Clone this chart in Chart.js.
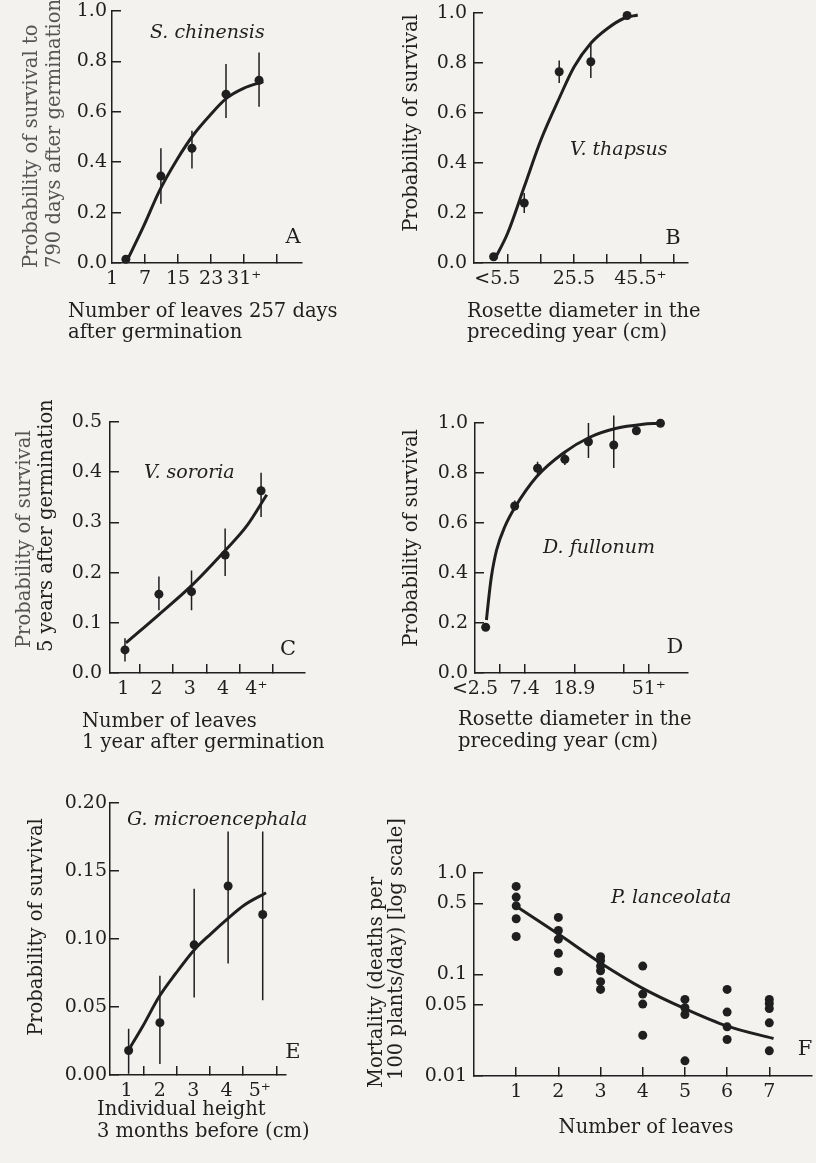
<!DOCTYPE html>
<html>
<head>
<meta charset="utf-8">
<title>Survival and size</title>
<script src="https://cdn.jsdelivr.net/npm/chart.js@4.4.1/dist/chart.umd.min.js"></script>
<style>
  html, body { margin: 0; padding: 0; background: #f3f2ee; }
  #page { position: relative; width: 816px; height: 1163px; overflow: hidden; }
  #page canvas { position: absolute; left: 0; top: 0; }
</style>
</head>
<body>
<div id="page">
  <canvas id="panelA" width="816" height="1163"></canvas>
  <canvas id="panelB" width="816" height="1163"></canvas>
  <canvas id="panelC" width="816" height="1163"></canvas>
  <canvas id="panelD" width="816" height="1163"></canvas>
  <canvas id="panelE" width="816" height="1163"></canvas>
  <canvas id="panelF" width="816" height="1163"></canvas>
</div>
<script>
// A - S. chinensis
const aLeafX = [0.42, 1.48, 2.42, 3.45, 4.45];
const aSurv = [0.015, 0.345, 0.455, 0.67, 0.725];
const aLow = [null, 0.235, 0.375, 0.575, 0.62];
const aHigh = [null, 0.455, 0.525, 0.79, 0.835];
const aFitX = [0.44, 0.95, 1.45, 1.96, 2.46, 2.97, 3.47, 3.98, 4.58];
const aFitY = [0.005, 0.144, 0.29, 0.409, 0.508, 0.587, 0.654, 0.693, 0.72];
const aXLabels = ['1', '7', '15', '23', '31\u207A'];
const aYLabels = ['0.0', '0.2', '0.4', '0.6', '0.8', '1.0'];

// B - V. thapsus
const bDiamX = [0.59, 1.51, 2.56, 3.51, 4.6];
const bSurv = [0.025, 0.24, 0.765, 0.805, 0.99];
const bLow = [null, 0.20, 0.72, 0.74, null];
const bHigh = [null, 0.28, 0.81, 0.88, null];
const bFitX = [0.61, 1.01, 1.51, 2.01, 2.56, 3.01, 3.51, 4.02, 4.51, 4.92];
const bFitY = [0.012, 0.119, 0.305, 0.492, 0.659, 0.785, 0.879, 0.939, 0.979, 0.992];
const bXLabels = ['<5.5', '25.5', '45.5\u207A'];
const bYLabels = ['0.0', '0.2', '0.4', '0.6', '0.8', '1.0'];

// C - V. sororia
const cLeafX = [0.55, 1.57, 2.55, 3.56, 4.64];
const cSurv = [0.046, 0.157, 0.162, 0.235, 0.363];
const cLow = [0.023, 0.125, 0.125, 0.193, 0.311];
const cHigh = [0.069, 0.192, 0.204, 0.288, 0.399];
const cFitX = [0.58, 1.58, 2.55, 3.56, 4.21, 4.81];
const cFitY = [0.060, 0.117, 0.174, 0.244, 0.293, 0.355];
const cXLabels = ['1', '2', '3', '4', '4\u207A'];
const cYLabels = ['0.0', '0.1', '0.2', '0.3', '0.4', '0.5'];

// D - D. fullonum
const dDiamX = [0.43, 1.6, 2.52, 3.62, 4.57, 5.59, 6.5, 7.47];
const dSurv = [0.183, 0.668, 0.819, 0.855, 0.925, 0.912, 0.969, 0.999];
const dLow = [null, 0.65, 0.79, 0.832, 0.86, 0.82, 0.96, null];
const dHigh = [null, 0.69, 0.845, 0.879, 1.0, 1.03, 0.99, null];
const dFitX = [0.46, 0.56, 0.66, 0.87, 1.2, 1.6, 2.48, 3.55, 4.62, 5.7, 6.77, 7.37];
const dFitY = [0.212, 0.305, 0.385, 0.492, 0.585, 0.661, 0.785, 0.879, 0.943, 0.979, 0.995, 0.999];
const dXLabels = ['<2.5', '7.4', '18.9', '51\u207A'];
const dYLabels = ['0.0', '0.2', '0.4', '0.6', '0.8', '1.0'];

// E - G. microencephala
const eHeightX = [0.56, 1.5, 2.53, 3.55, 4.59];
const eSurv = [0.018, 0.0385, 0.0957, 0.139, 0.118];
const eLow = [0.001, 0.008, 0.057, 0.082, 0.055];
const eHigh = [0.034, 0.073, 0.137, 0.179, 0.179];
const eFitX = [0.53, 0.98, 1.48, 1.98, 2.53, 3.04, 3.54, 4.04, 4.69];
const eFitY = [0.0172, 0.0356, 0.0577, 0.0748, 0.092, 0.104, 0.115, 0.125, 0.134];
const eXLabels = ['1', '2', '3', '4', '5\u207A'];
const eYLabels = ['0.00', '0.05', '0.10', '0.15', '0.20'];

// F - P. lanceolata (one list of observed mortalities per leaf count)
const fLeafCounts = [1, 2, 3, 4, 5, 6, 7];
const fMortality = [
    [0.738, 0.579, 0.475, 0.354, 0.237],
    [0.365, 0.271, 0.223, 0.162, 0.107],
    [0.150, 0.137, 0.121, 0.109, 0.085, 0.0713],
    [0.121, 0.0641, 0.0511, 0.0252],
    [0.0568, 0.047, 0.0404, 0.0141],
    [0.0713, 0.0426, 0.0305, 0.0229],
    [0.0568, 0.0519, 0.0463, 0.0334, 0.0177]
];
const fFitX = [1, 2, 3, 4, 5, 6, 7.1];
const fFitY = [0.47, 0.25, 0.13, 0.073, 0.046, 0.031, 0.0234];
const fXLabels = ['1', '2', '3', '4', '5', '6', '7'];
const fYTicks = [0.01, 0.05, 0.1, 0.5, 1.0];
const fYLabels = ['0.01', '0.05', '0.1', '0.5', '1.0'];

const PAGE_W = 816;
const PAGE_H = 1163;
const Y_BOX = 70;   // room kept for y tick labels
const X_BOX = 40;   // room kept for x tick labels
const INK = '#1f1f1f';
const SERIF = '"DejaVu Serif", "Liberation Serif", serif';
const TICK_FONT = { family: SERIF, size: 19 };
const TITLE_FONT = '19.5px ' + SERIF;
const SPECIES_FONT = 'italic 19px ' + SERIF;
const LETTER_FONT = '21px ' + SERIF;

Chart.defaults.font.family = SERIF;
Chart.defaults.color = INK;

// free text: species names, panel letters and axis titles
const notesPlugin = {
    id: 'notes',
    afterDraw(chart, args, opts) {
        const ctx = chart.ctx;
        (opts.items || []).forEach(item => {
            ctx.save();
            ctx.translate(item.x, item.y);
            if (item.rotate) ctx.rotate(-Math.PI / 2);
            ctx.font = item.font || TITLE_FONT;
            ctx.fillStyle = item.color || INK;
            ctx.textAlign = item.align || 'left';
            ctx.textBaseline = 'middle';
            ctx.fillText(item.text, 0, 0);
            ctx.restore();
        });
    }
};

function fixedFit(scale, horizontal) {
    if (horizontal) scale.height = X_BOX; else scale.width = Y_BOX;
    scale.paddingLeft = scale.paddingRight = scale.paddingTop = scale.paddingBottom = 0;
}

// tick marks and tick labels may sit at different places
function xScale(min, max, marks, labelAt, labels, pad) {
    return {
        type: 'linear',
        min: min,
        max: max,
        afterBuildTicks: s => {
            const t = marks.map(v => ({ value: v, mark: true, text: '' }));
            labelAt.forEach((v, i) => {
                const hit = t.find(k => k.value === v);
                if (hit) hit.text = labels[i];
                else t.push({ value: v, mark: false, text: labels[i] });
            });
            s.ticks = t.sort((a, b) => a.value - b.value);
        },
        afterFit: s => fixedFit(s, true),
        ticks: {
            autoSkip: false,
            maxRotation: 0,
            minRotation: 0,
            padding: pad,
            color: INK,
            font: TICK_FONT,
            callback: (v, i, ticks) => ticks[i].text
        },
        grid: {
            drawOnChartArea: false,
            tickLength: -9,
            lineWidth: 1.5,
            color: c => (c.tick && c.tick.mark) ? INK : 'rgba(0,0,0,0)'
        },
        border: { display: true, color: INK, width: 1.5 }
    };
}

function yScale(type, min, max, values, labels, pad) {
    return {
        type: type,
        min: min,
        max: max,
        afterBuildTicks: s => { s.ticks = values.map(v => ({ value: v })); },
        afterFit: s => fixedFit(s, false),
        ticks: {
            autoSkip: false,
            padding: pad,
            color: INK,
            font: TICK_FONT,
            callback: (v, i) => labels[i]
        },
        grid: { drawOnChartArea: false, tickLength: -9, lineWidth: 1.5, color: INK },
        border: { display: true, color: INK, width: 1.5 }
    };
}

function points(xs, ys) {
    return xs.map((x, i) => ({ x: x, y: ys[i] }));
}

function errorBars(xs, lo, hi) {
    const pts = [];
    xs.forEach((x, i) => {
        if (lo[i] == null) return;
        pts.push({ x: x, y: lo[i] }, { x: x, y: hi[i] }, { x: x, y: null });
    });
    return pts;
}

function buildPanel(id, area, datasets, xs, ys, notes) {
    return new Chart(document.getElementById(id), {
        type: 'scatter',
        data: { datasets: datasets },
        options: {
            responsive: false,
            animation: false,
            events: [],
            layout: {
                padding: {
                    left: area.left - Y_BOX,
                    top: area.top,
                    right: PAGE_W - area.right,
                    bottom: PAGE_H - area.bottom - X_BOX
                }
            },
            plugins: {
                legend: { display: false },
                tooltip: { enabled: false },
                notes: { items: notes }
            },
            scales: { x: xs, y: ys }
        },
        plugins: [notesPlugin]
    });
}

function survivalSets(px, py, lo, hi, fx, fy) {
    const sets = [
        {
            type: 'scatter',
            data: points(px, py),
            pointRadius: 4.5,
            pointBackgroundColor: INK,
            pointBorderWidth: 0,
            clip: false,
            order: 0
        },
        {
            type: 'line',
            data: points(fx, fy),
            borderColor: INK,
            borderWidth: 3,
            pointRadius: 0,
            cubicInterpolationMode: 'monotone',
            fill: false,
            clip: false,
            order: 1
        }
    ];
    if (lo) {
        sets.push({
            type: 'line',
            data: errorBars(px, lo, hi),
            borderColor: INK,
            borderWidth: 1.5,
            pointRadius: 0,
            spanGaps: false,
            fill: false,
            clip: false,
            order: 2
        });
    }
    return sets;
}

// Panel A
buildPanel('panelA', { left: 112, top: 11, right: 302, bottom: 263 },
    survivalSets(aLeafX, aSurv, aLow, aHigh, aFitX, aFitY),
    xScale(0, 5.75, [1, 2, 3, 4, 5], [0, 1, 2, 3, 4], aXLabels, 14),
    yScale('linear', 0, 1, [0, 0.2, 0.4, 0.6, 0.8, 1.0], aYLabels, 14),
    [
        { text: 'S. chinensis', x: 150, y: 33, font: SPECIES_FONT },
        { text: 'A', x: 293, y: 238, align: 'center', font: LETTER_FONT },
        { text: 'Probability of survival to', x: 32, y: 268, rotate: true, color: '#555' },
        { text: '790 days after germination', x: 55, y: 268, rotate: true, color: '#555' },
        { text: 'Number of leaves 257 days', x: 68, y: 312 },
        { text: 'after germination', x: 68, y: 333 }
    ]);

// Panel B
buildPanel('panelB', { left: 474, top: 13, right: 688, bottom: 263 },
    survivalSets(bDiamX, bSurv, bLow, bHigh, bFitX, bFitY),
    xScale(0, 6.43, [1, 2, 3, 4, 5, 6], [0.7, 3, 5], bXLabels, 14),
    yScale('linear', 0, 1, [0, 0.2, 0.4, 0.6, 0.8, 1.0], bYLabels, 16),
    [
        { text: 'V. thapsus', x: 570, y: 150, font: SPECIES_FONT },
        { text: 'B', x: 673, y: 239, align: 'center', font: LETTER_FONT },
        { text: 'Probability of survival', x: 412, y: 123, rotate: true, align: 'center' },
        { text: 'Rosette diameter in the', x: 467, y: 312 },
        { text: 'preceding year (cm)', x: 467, y: 333 }
    ]);

// Panel C
buildPanel('panelC', { left: 110, top: 422, right: 305, bottom: 673 },
    survivalSets(cLeafX, cSurv, cLow, cHigh, cFitX, cFitY),
    xScale(0.1, 5.96, [1, 2, 3, 4, 5], [0.5, 1.5, 2.5, 3.5, 4.5], cXLabels, 14),
    yScale('linear', 0, 0.5, [0, 0.1, 0.2, 0.3, 0.4, 0.5], cYLabels, 17),
    [
        { text: 'V. sororia', x: 144, y: 473, font: SPECIES_FONT },
        { text: 'C', x: 288, y: 650, align: 'center', font: LETTER_FONT },
        { text: 'Probability of survival', x: 25, y: 648, rotate: true, color: '#555' },
        { text: '5 years after germination', x: 47, y: 652, rotate: true },
        { text: 'Number of leaves', x: 82, y: 722 },
        { text: '1 year after germination', x: 82, y: 743 }
    ]);

// Panel D
buildPanel('panelD', { left: 475, top: 423, right: 688, bottom: 673 },
    survivalSets(dDiamX, dSurv, dLow, dHigh, dFitX, dFitY),
    xScale(0, 8.58, [1, 2, 4, 6, 7], [0, 2, 4, 7], dXLabels, 14),
    yScale('linear', 0, 1, [0, 0.2, 0.4, 0.6, 0.8, 1.0], dYLabels, 16),
    [
        { text: 'D. fullonum', x: 543, y: 548, font: SPECIES_FONT },
        { text: 'D', x: 675, y: 648, align: 'center', font: LETTER_FONT },
        { text: 'Probability of survival', x: 412, y: 538, rotate: true, align: 'center' },
        { text: 'Rosette diameter in the', x: 458, y: 720 },
        { text: 'preceding year (cm)', x: 458, y: 742 }
    ]);

// Panel E
buildPanel('panelE', { left: 110, top: 803, right: 286, bottom: 1075 },
    survivalSets(eHeightX, eSurv, eLow, eHigh, eFitX, eFitY),
    xScale(0, 5.29, [1, 2, 3, 4, 5], [0.5, 1.5, 2.5, 3.5, 4.5], eXLabels, 14),
    yScale('linear', 0, 0.2, [0, 0.05, 0.1, 0.15, 0.2], eYLabels, 12),
    [
        { text: 'G. microencephala', x: 127, y: 820, font: SPECIES_FONT },
        { text: 'E', x: 293, y: 1053, align: 'center', font: LETTER_FONT },
        { text: 'Probability of survival', x: 37, y: 927, rotate: true, align: 'center' },
        { text: 'Individual height', x: 97, y: 1110 },
        { text: '3 months before (cm)', x: 97, y: 1132 }
    ]);

// Panel F - every observation at its leaf count, log mortality axis
const fObsX = [];
const fObsY = [];
fLeafCounts.forEach((n, i) => {
    fMortality[i].forEach(m => { fObsX.push(n); fObsY.push(m); });
});

buildPanel('panelF', { left: 474, top: 873, right: 816, bottom: 1076 },
    survivalSets(fObsX, fObsY, null, null, fFitX, fFitY),
    xScale(0, 8.0, fLeafCounts, fLeafCounts, fXLabels, 14),
    yScale('logarithmic', 0.01, 1.0, fYTicks, fYLabels, 16),
    [
        { text: 'P. lanceolata', x: 611, y: 898, font: SPECIES_FONT },
        { text: 'F', x: 805, y: 1050, align: 'center', font: LETTER_FONT },
        { text: 'Mortality (deaths per', x: 377, y: 1088, rotate: true },
        { text: '100 plants/day) [log scale]', x: 397, y: 1080, rotate: true },
        { text: 'Number of leaves', x: 646, y: 1128, align: 'center' }
    ]);
</script>
</body>
</html>
